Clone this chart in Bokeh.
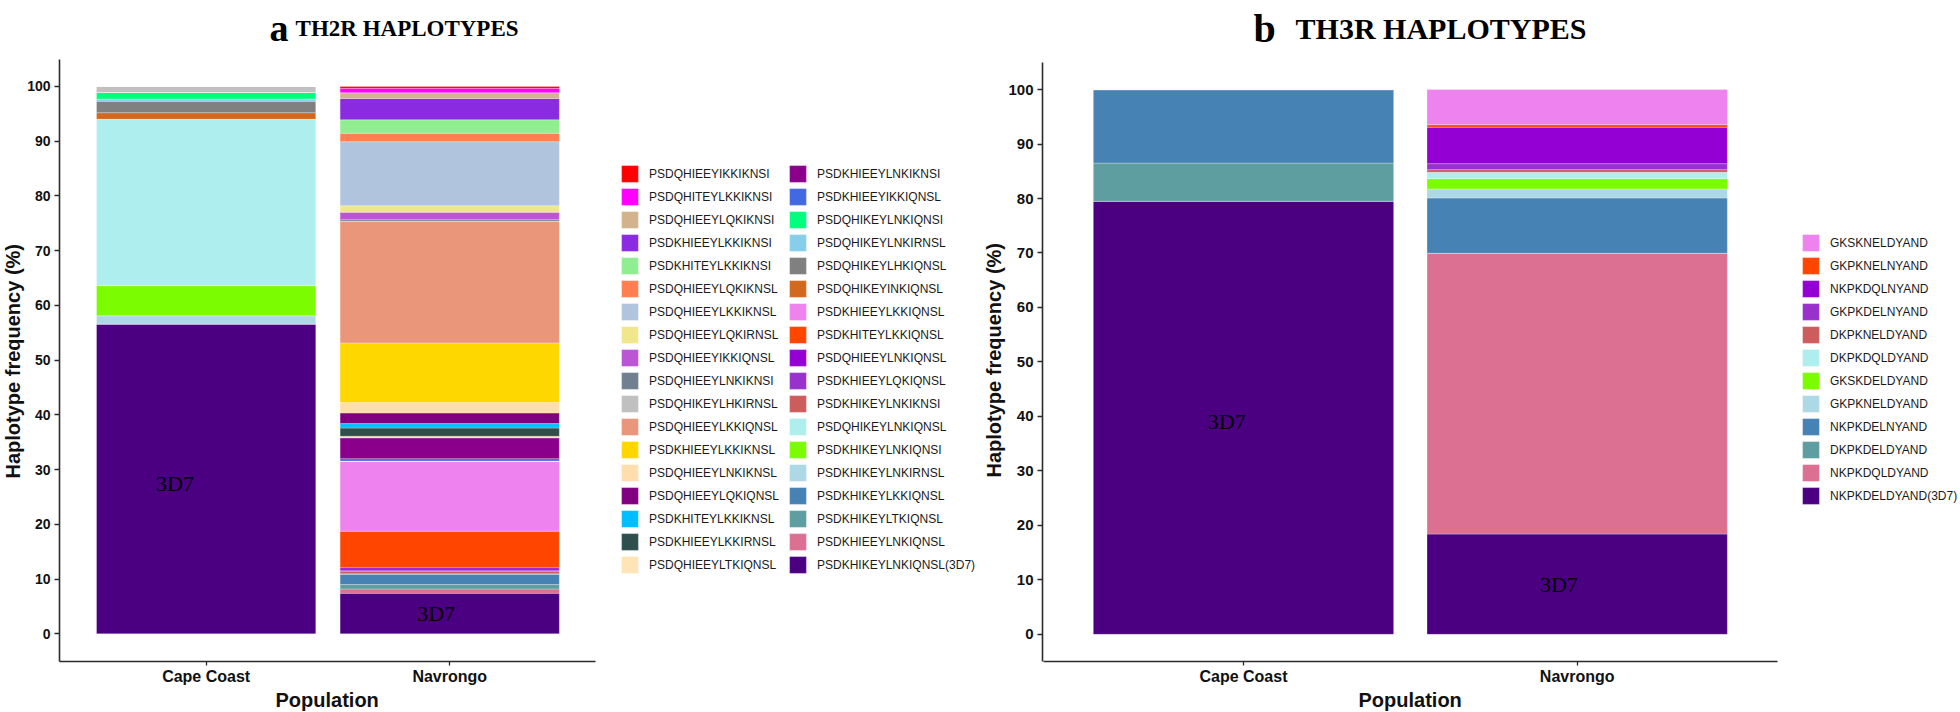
import numpy as np
from bokeh.plotting import figure
from bokeh.models import (ColumnDataSource, Range1d, Legend, LegendItem, Label, FixedTicker,
                          Title)
from bokeh.layouts import row
from bokeh.embed import file_html
from bokeh.resources import INLINE
from bokeh.core.properties import value

populations = ["Cape Coast", "Navrongo"]
pop_pos = [1, 2]

# ---------------- TH2R ----------------
th2r_haplotypes = [
    "PSDQHIEEYIKKIKNSI", "PSDQHITEYLKKIKNSI", "PSDQHIEEYLQKIKNSI", "PSDKHIEEYLKKIKNSI",
    "PSDKHITEYLKKIKNSI", "PSDQHIEEYLQKIKNSL", "PSDQHIEEYLKKIKNSL", "PSDQHIEEYLQKIRNSL",
    "PSDQHIEEYIKKIQNSL", "PSDQHIEEYLNKIKNSI", "PSDQHIKEYLHKIRNSL", "PSDQHIEEYLKKIQNSL",
    "PSDKHIEEYLKKIKNSL", "PSDQHIEEYLNKIKNSL", "PSDQHIEEYLQKIQNSL", "PSDKHITEYLKKIKNSL",
    "PSDKHIEEYLKKIRNSL", "PSDQHIEEYLTKIQNSL",
    "PSDKHIEEYLNKIKNSI", "PSDKHIEEYIKKIQNSL", "PSDQHIKEYLNKIQNSI", "PSDQHIKEYLNKIRNSL",
    "PSDQHIKEYLHKIQNSL", "PSDQHIKEYINKIQNSL", "PSDKHIEEYLKKIQNSL", "PSDKHITEYLKKIQNSL",
    "PSDQHIEEYLNKIQNSL", "PSDKHIEEYLQKIQNSL", "PSDKHIKEYLNKIKNSI", "PSDQHIKEYLNKIQNSL",
    "PSDKHIKEYLNKIQNSI", "PSDKHIKEYLNKIRNSL", "PSDKHIKEYLKKIQNSL", "PSDKHIKEYLTKIQNSL",
    "PSDKHIEEYLNKIQNSL", "PSDKHIKEYLNKIQNSL(3D7)",
]
th2r_colors = [
    "#FF0000", "#FF00FF", "#D2B48C", "#8A2BE2", "#90EE90", "#FF7F50", "#B0C4DE", "#F0E68C",
    "#BA55D3", "#708090", "#C0C0C0", "#E9967A", "#FFD700", "#FFDEAD", "#800080", "#00BFFF",
    "#2F4F4F", "#FFE4B5",
    "#8B008B", "#4169E1", "#00FF7F", "#87CEEB", "#808080", "#D2691E", "#EE82EE", "#FF4500",
    "#9400D3", "#9932CC", "#CD5C5C", "#AFEEEE", "#7CFC00", "#ADD8E6", "#4682B4", "#5F9EA0",
    "#DB7093", "#4B0082",
]
th2r_cape = [
    0, 0, 0, 0, 0, 0, 0, 0, 0, 0, 1.1, 0, 0, 0, 0, 0, 0, 0,
    0, 0, 1.2, 0.4, 2.1, 1.2, 0, 0, 0, 0, 0, 30.4, 5.5, 1.5, 0, 0, 0, 56.6,
]
th2r_navrongo = [
    0.35, 0.8, 1.05, 3.9, 2.45, 1.55, 11.7, 1.2, 1.35, 0.3, 0, 22.2, 10.9, 1.9, 1.95, 0.8, 1.5, 0.3,
    3.8, 0.45, 0, 0, 0, 0, 12.8, 6.7, 0.4, 0.2, 0.5, 0, 0, 0, 1.95, 0.8, 0.8, 7.4,
]
th2r_label_text = ["3D7", "3D7"]
th2r_label_x = [0.872, 1.944]
th2r_label_y = [27.4, 3.8]

# ---------------- TH3R ----------------
th3r_haplotypes = [
    "GKSKNELDYAND", "GKPKNELNYAND", "NKPKDQLNYAND", "GKPKDELNYAND", "DKPKNELDYAND",
    "DKPKDQLDYAND", "GKSKDELDYAND", "GKPKNELDYAND", "NKPKDELNYAND", "DKPKDELDYAND",
    "NKPKDQLDYAND", "NKPKDELDYAND(3D7)",
]
th3r_colors = [
    "#EE82EE", "#FF4500", "#9400D3", "#9932CC", "#CD5C5C", "#AFEEEE", "#7CFC00", "#ADD8E6",
    "#4682B4", "#5F9EA0", "#DB7093", "#4B0082",
]
th3r_cape = [0, 0, 0, 0, 0, 0, 0, 0, 13.5, 7.0, 0, 79.5]
th3r_navrongo = [6.45, 0.45, 6.7, 1.1, 0.5, 1.15, 1.9, 1.65, 10.15, 0, 51.55, 18.4]
th3r_label_text = ["3D7", "3D7"]
th3r_label_x = [0.95, 1.945]
th3r_label_y = [39.1, 9.1]

y_ticks = list(range(0, 101, 10))
y_title = "Haplotype frequency (%)"
x_title = "Population"

SANS = "Liberation Sans"
SERIF = "Liberation Serif"
AX = "#2b2b2b"


def make_panel(names, colors, cape, nav, lab_text, lab_x, lab_y, width, height,
               xr, yr, mb_left, mb_bottom, tick_size, cat_size, ytitle_off, xtitle_off):
    keys = ["h%d" % i for i in range(len(names))]
    data = {"pos": pop_pos}
    for k, c, n in zip(keys, cape, nav):
        data[k] = [c, n]
    src = ColumnDataSource(data)

    p = figure(x_range=Range1d(*xr), y_range=Range1d(*yr), width=width, height=height,
               min_border_left=mb_left, min_border_right=0, min_border_top=0,
               min_border_bottom=mb_bottom,
               output_backend="svg", toolbar_location=None, tools="")
    p.outline_line_color = None
    p.xgrid.grid_line_color = None
    p.ygrid.grid_line_color = None
    p.background_fill_color = "white"
    p.border_fill_color = "white"

    order = list(range(len(names)))[::-1]          # bottom of stack = last legend entry
    rends = p.vbar_stack([keys[i] for i in order], x="pos", width=0.9, source=src,
                         fill_color=[colors[i] for i in order],
                         line_color="white", line_alpha=0.45, line_width=0.6)
    rmap = {order[j]: r for j, r in enumerate(rends)}

    p.text(x=lab_x, y=lab_y, text=lab_text, text_font=value(SERIF),
           text_font_size=value("22px"), text_align="center", text_baseline="middle",
           text_color="black")

    for ax in (p.xaxis[0], p.yaxis[0]):
        ax.axis_line_color = AX
        ax.axis_line_width = 1.6
        ax.major_tick_line_color = AX
        ax.major_tick_line_width = 1.3
        ax.major_tick_in = 0
        ax.minor_tick_line_color = None
        ax.major_label_text_font = SANS
        ax.major_label_text_font_style = "bold"
        ax.major_label_text_color = "#111111"
    p.yaxis.ticker = FixedTicker(ticks=y_ticks)
    p.yaxis.bounds = (-5, 105)
    p.yaxis.major_tick_out = 5
    p.yaxis.major_label_standoff = 4
    p.yaxis.major_label_text_font_size = tick_size

    p.xaxis.ticker = FixedTicker(ticks=pop_pos)
    p.xaxis.major_label_overrides = dict(zip(pop_pos, populations))
    p.xaxis.bounds = (0.4, 2.6)
    p.xaxis.major_tick_out = 4
    p.xaxis.major_label_standoff = 2
    p.xaxis.major_label_text_font_size = cat_size

    # axis titles, placed as side-panel titles so that they centre on the data area
    p.add_layout(Title(text=y_title, align="left", offset=ytitle_off, standoff=0,
                       vertical_align="middle", text_font=SANS, text_font_style="bold",
                       text_font_size="20px", text_color="#111111"), "left")
    p.add_layout(Title(text=x_title, align="left", offset=xtitle_off, standoff=0,
                       vertical_align="middle", text_font=SANS, text_font_style="bold",
                       text_font_size="20px", text_color="#111111"), "below")
    return p, rmap


def add_legend(p, names, rmap, idx, x, y):
    items = [LegendItem(label=names[i], renderers=[rmap[i]]) for i in idx]
    leg = Legend(items=items, location=(x, y), orientation="vertical",
                 glyph_width=21, glyph_height=21, label_height=21, label_width=10,
                 spacing=2, padding=0, margin=0, label_standoff=9,
                 label_text_font=SANS, label_text_font_size="12px",
                 label_text_color="#1a1a1a", border_line_color=None,
                 background_fill_alpha=0)
    p.add_layout(leg)


def add_title(p, x, y, text, size):
    p.add_layout(Label(x=x, y=y, text=text, text_font=SERIF, text_font_style="bold",
                       text_font_size=size, text_align="left",
                       text_baseline="alphabetic", text_color="black"))


# ---- panel a ----
p1, rm1 = make_panel(th2r_haplotypes, th2r_colors, th2r_cape, th2r_navrongo,
                     th2r_label_text, th2r_label_x, th2r_label_y,
                     width=980, height=712, xr=(0.398, 4.179), yr=(-5.06, 115.7),
                     mb_left=59, mb_bottom=51, tick_size="14px", cat_size="16px",
                     ytitle_off=183, xtitle_off=216)
add_legend(p1, th2r_haplotypes, rm1, list(range(0, 18)), 560, 86)
add_legend(p1, th2r_haplotypes, rm1, list(range(18, 36)), 728, 86)
add_title(p1, 1.26, 110.6, "a", "38px")
add_title(p1, 1.367, 110.6, "TH2R HAPLOTYPES", "23px")

# ---- panel b ----
p2, rm2 = make_panel(th3r_haplotypes, th3r_colors, th3r_cape, th3r_navrongo,
                     th3r_label_text, th3r_label_x, th3r_label_y,
                     width=980, height=712, xr=(0.3977, 3.1487), yr=(-4.99, 116.35),
                     mb_left=62, mb_bottom=48, tick_size="15px", cat_size="16px",
                     ytitle_off=184, xtitle_off=316)
add_legend(p2, th3r_haplotypes, rm2, list(range(0, 12)), 758, 155)
add_title(p2, 1.03, 111.2, "b", "40px")
add_title(p2, 1.156, 111.2, "TH3R HAPLOTYPES", "30px")

layout = row(p1, p2)
open("out.html", "w").write(file_html(layout, INLINE))
